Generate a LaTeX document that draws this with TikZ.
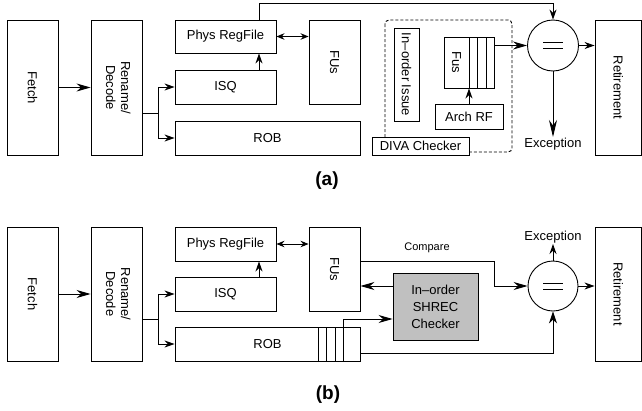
\documentclass[tikz,border=0pt]{standalone}
\usepackage{fontspec}
\usepackage{graphicx}
\setmainfont{Liberation Sans}
\usetikzlibrary{arrows.meta,calc}
\newcommand\txtM{\fontsize{13}{15}\selectfont}
\newcommand\txtS{\fontsize{11}{13}\selectfont}
\newcommand\txtL{\fontsize{19}{22}\selectfont\bfseries}
\newcommand\rot[1]{\rotatebox{-90}{#1}}
\begin{document}
\begin{tikzpicture}[x=1pt,y=-1pt,
  box/.style={draw, line width=0.9pt, inner sep=0pt, font=\txtM, align=center},
  arr/.style={-{Stealth[length=10pt,width=7pt]}, line width=0.9pt},
  barr/.style={-{Stealth[length=14pt,width=8pt]}, line width=0.9pt},
  darr/.style={{Stealth[length=8pt,width=6.5pt]}-{Stealth[length=8pt,width=6.5pt]}, line width=0.9pt},
  plain/.style={line width=0.9pt},
  lbl/.style={font=\txtM, inner sep=1pt}]
\useasboundingbox (0,0) rectangle (642,410);
% ---------------- (a) ----------------
\node[box, minimum width=51pt, minimum height=135pt] (fetchA) at (32.5,87.5) {\rot{Fetch}};
\node[box, minimum width=51pt, minimum height=135pt] (renA) at (116.5,87.5) {\rot{\begin{tabular}{@{}c@{}}Rename/\\Decode\end{tabular}}};
\node[box, minimum width=101pt, minimum height=33pt] (prfA) at (225.5,36.5) {Phys RegFile};
\node[box, minimum width=101pt, minimum height=34pt] (isqA) at (225.5,87) {ISQ};
\node[box, minimum width=185pt, minimum height=34pt] (robA) at (267.5,138) {ROB};
\node[box, minimum width=51pt, minimum height=84pt] (fusA) at (334.5,62) {\rot{FUs}};
\draw[line width=0.9pt, dash pattern=on 3pt off 2pt, rounded corners=4pt] (385,20) rectangle (512,152);
\node[box, minimum width=25pt, minimum height=93pt] (issueA) at (406.5,74.5) {\rot{In–order Issue}};
\node[box, minimum width=50pt, minimum height=51pt] (fus2A) at (469,62.5) {};
\node[font=\txtM] (fus2txt) at (456.5,62.5) {\rot{Fus}};
\foreach \qx in {469,477.5,486} \draw[plain] (\qx,37) -- (\qx,88);
\node[box, minimum width=68pt, minimum height=25pt] (archA) at (469,116.5) {Arch RF};
\node[box, fill=white, minimum width=97pt, minimum height=18pt] (divaA) at (420.5,146) {DIVA Checker};
\node[circle, draw, line width=0.9pt, minimum size=51pt, inner sep=0pt] (cmpA) at (553,45.5) {};
\draw[plain] ([shift={(-10,-3)}]cmpA.center) -- ([shift={(10,-3)}]cmpA.center);
\draw[plain] ([shift={(-10,3)}]cmpA.center) -- ([shift={(10,3)}]cmpA.center);
\node[box, minimum width=46.5pt, minimum height=135pt] (retA) at (618.25,87.5) {\rot{Retirement}};
\node[lbl, anchor=north] (excA) at (553,137) {Exception};
\node[font=\txtL] (labA) at (327,181) {(a)};
\coordinate (jA) at (158,113);
\coordinate (t1) at (259,3);
\draw[barr] (fetchA.east) -- (renA.west);
\draw[plain] (renA.east |- jA) -- (jA);
\draw[arr] (jA) |- (isqA.west);
\draw[arr] (jA) |- (robA.west);
\draw[arr] (t1 |- isqA.north) -- (t1 |- prfA.south);
\draw[arr] (t1 |- prfA.north) -- (t1) -| (cmpA.north);
\draw[darr] (prfA.east) -- (fusA.west |- prfA.east);
\draw[arr] (archA.north) -- (fus2A.south);
\draw[barr] (fus2A.east |- cmpA.west) -- (cmpA.west);
\draw[arr] (cmpA.east) -- (retA.west |- cmpA.east);
\draw[-{Stealth[length=17pt,width=8pt]}, line width=0.9pt] (cmpA.south) -- (excA.north);
% ---------------- (b) ----------------
\node[box, minimum width=51pt, minimum height=134pt] (fetchB) at (32.5,294) {\rot{Fetch}};
\node[box, minimum width=51pt, minimum height=134pt] (renB) at (116.5,294) {\rot{\begin{tabular}{@{}c@{}}Rename/\\Decode\end{tabular}}};
\node[box, minimum width=101pt, minimum height=34pt] (prfB) at (225.5,244) {Phys RegFile};
\node[box, minimum width=101pt, minimum height=34pt] (isqB) at (225.5,294) {ISQ};
\node[box, minimum width=185pt, minimum height=34pt] (robB) at (267.5,344) {ROB};
\foreach \qx in {318,326.5,335,343} \draw[plain] (\qx,327) -- (\qx,361);
\node[box, minimum width=51pt, minimum height=84pt] (fusB) at (334.5,269) {\rot{FUs}};
\node[box, fill={rgb,255:red,192;green,192;blue,192}, minimum width=85pt, minimum height=67pt] (shrec) at (435.5,306.5) {In–order\\[2pt]SHREC\\[2pt]Checker};
\node[circle, draw, line width=0.9pt, minimum size=50pt, inner sep=0pt] (cmpB) at (553,286) {};
\draw[plain] ([shift={(-10,-3)}]cmpB.center) -- ([shift={(10,-3)}]cmpB.center);
\draw[plain] ([shift={(-10,3)}]cmpB.center) -- ([shift={(10,3)}]cmpB.center);
\node[box, minimum width=46.5pt, minimum height=134pt] (retB) at (618.25,294) {\rot{Retirement}};
\node[lbl, anchor=south] (excB) at (553,244) {Exception};
\node[font=\txtS] (cmpTxt) at (427,248) {Compare};
\node[font=\txtL] (labB) at (328,395) {(b)};
\coordinate (jB) at (158,319);
\coordinate (cb) at (494,261);
\coordinate (rq) at (343,319);
\coordinate (rb) at (553,353);
\draw[barr] (fetchB.east) -- (renB.west);
\draw[plain] (renB.east |- jB) -- (jB);
\draw[arr] (jB) |- (isqB.west);
\draw[arr] (jB) |- (robB.west);
\draw[arr] (t1 |- isqB.north) -- (t1 |- prfB.south);
\draw[darr] (prfB.east) -- (fusB.west |- prfB.east);
\draw[barr] (fusB.east |- cb) -- (cb) |- (cmpB.west);
\draw[barr] (shrec.west |- cmpB.west) -- (fusB.east |- cmpB.west);
\draw[barr] (robB.north -| rq) -- (rq) -- (shrec.west |- rq);
\draw[-{Stealth[length=12pt,width=8pt]}, line width=0.9pt] (robB.east |- rb) -- (rb) -- (cmpB.south);
\draw[arr] (cmpB.north) -- (excB.south);
\draw[arr] (cmpB.east) -- (retB.west |- cmpB.east);
\end{tikzpicture}
\end{document}
